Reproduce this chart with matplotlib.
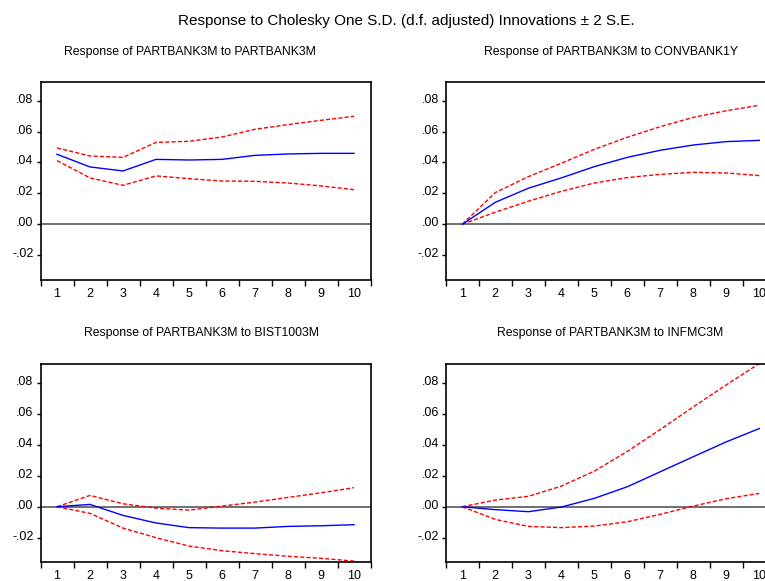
import matplotlib
matplotlib.use("Agg")
import matplotlib.pyplot as plt
from matplotlib.ticker import FixedLocator, FuncFormatter
from matplotlib.transforms import ScaledTranslation

plt.rcParams['font.family'] = ['Liberation Sans', 'DejaVu Sans']

periods = [1, 2, 3, 4, 5, 6, 7, 8, 9, 10]

titles = [
    "Response of PARTBANK3M to PARTBANK3M",
    "Response of PARTBANK3M to CONVBANK1Y",
    "Response of PARTBANK3M to BIST1003M",
    "Response of PARTBANK3M to INFMC3M",
]

resp_partbank = [0.0453, 0.0371, 0.0345, 0.0420, 0.0416, 0.0420, 0.0446, 0.0455, 0.0459, 0.0459]
upper_partbank = [0.0494, 0.0442, 0.0433, 0.0530, 0.0537, 0.0565, 0.0615, 0.0645, 0.0673, 0.0699]
lower_partbank = [0.0412, 0.0300, 0.0252, 0.0313, 0.0295, 0.0280, 0.0278, 0.0267, 0.0248, 0.0224]

resp_convbank = [0.0, 0.0142, 0.0233, 0.0300, 0.0373, 0.0433, 0.0479, 0.0513, 0.0535, 0.0543]
upper_convbank = [0.0, 0.0205, 0.0308, 0.0395, 0.0485, 0.0563, 0.0632, 0.0692, 0.0735, 0.0770]
lower_convbank = [0.0, 0.0078, 0.0149, 0.0213, 0.0267, 0.0302, 0.0323, 0.0336, 0.0332, 0.0315]

resp_bist = [0.0, 0.0015, -0.0056, -0.0105, -0.0135, -0.0138, -0.0138, -0.0127, -0.0123, -0.0116]
upper_bist = [0.0, 0.0073, 0.0019, -0.0009, -0.0022, 0.0004, 0.0030, 0.0060, 0.0090, 0.0123]
lower_bist = [0.0, -0.0043, -0.0138, -0.0200, -0.0254, -0.0284, -0.0303, -0.0320, -0.0333, -0.0351]

resp_infmc = [0.0, -0.0019, -0.0032, -0.0002, 0.0054, 0.0129, 0.0226, 0.0323, 0.0419, 0.0505]
upper_infmc = [0.0, 0.0043, 0.0067, 0.0133, 0.0230, 0.0357, 0.0499, 0.0645, 0.0787, 0.0925]
lower_infmc = [0.0, -0.0082, -0.0127, -0.0135, -0.0125, -0.0097, -0.0049, 0.0004, 0.0052, 0.0086]

y_ticks = [-0.02, 0.0, 0.02, 0.04, 0.06, 0.08]

series = [
    (resp_partbank, upper_partbank, lower_partbank),
    (resp_convbank, upper_convbank, lower_convbank),
    (resp_bist, upper_bist, lower_bist),
    (resp_infmc, upper_infmc, lower_infmc),
]

W, H = 765, 581
fig = plt.figure(figsize=(W / 100, H / 100), dpi=100)

# axes rectangles in pixels: (left, top, right, bottom)
rects = [
    (40.5, 82, 370.5, 280),
    (445.8, 82, 775.8, 280),
    (40.5, 363.5, 370.5, 561.7),
    (445.8, 363.5, 775.8, 561.7),
]
title_pos = [(190, 52), (611, 52), (201, 333), (610, 333)]


def fmt(v, pos):
    s = "%.2f" % v
    if s.startswith("-0"):
        s = "-" + s[2:]
    elif s.startswith("0"):
        s = s[1:]
    return s


for i, (l, t, r, b) in enumerate(rects):
    ax = fig.add_axes([l / W, 1 - b / H, (r - l) / W, (b - t) / H])
    resp, up, lo = series[i]
    ax.axhline(0, color="#707070", lw=1.4, zorder=1)
    ax.plot(periods, up, color="#FF0000", lw=1.0, ls=(0, (3, 1.5)), zorder=2)
    ax.plot(periods, lo, color="#FF0000", lw=1.0, ls=(0, (3, 1.5)), zorder=2)
    ax.plot(periods, resp, color="#0000FF", lw=1.0, zorder=3)
    ax.set_xlim(0.5, 10.5)
    if i < 2:
        ax.set_ylim(-0.0361, 0.0921)
    else:
        ax.set_ylim(-0.0355, 0.0925)
    ax.xaxis.set_major_locator(FixedLocator([p - 0.5 for p in periods] + [10.5]))
    ax.xaxis.set_major_formatter(FuncFormatter(lambda v, p: ""))
    ax.xaxis.set_minor_locator(FixedLocator(periods))
    ax.xaxis.set_minor_formatter(FuncFormatter(lambda v, p: "%d" % v))
    ax.tick_params(axis="x", which="major", direction="out", length=4, width=1, color="black")
    ax.tick_params(axis="x", which="minor", length=0, pad=6, labelsize=9)
    ax.set_yticks(y_ticks)
    ax.yaxis.set_major_formatter(FuncFormatter(fmt))
    ax.tick_params(axis="y", direction="out", length=3, width=1, pad=2, labelsize=9)
    off = ScaledTranslation(0, 2.5 / 100, fig.dpi_scale_trans)
    for lab in ax.get_yticklabels():
        lab.set_transform(lab.get_transform() + off)
    for s in ax.spines.values():
        s.set_linewidth(1.2)
        s.set_color("black")
    tx, ty = title_pos[i]
    fig.text(tx / W, 1 - ty / H, titles[i], ha="center", va="center", fontsize=8.8)

fig.text(406 / W, 1 - 21 / H, "Response to Cholesky One S.D. (d.f. adjusted) Innovations \u00b1 2 S.E.",
         ha="center", va="center", fontsize=11)

fig.savefig("out.png", dpi=100)
